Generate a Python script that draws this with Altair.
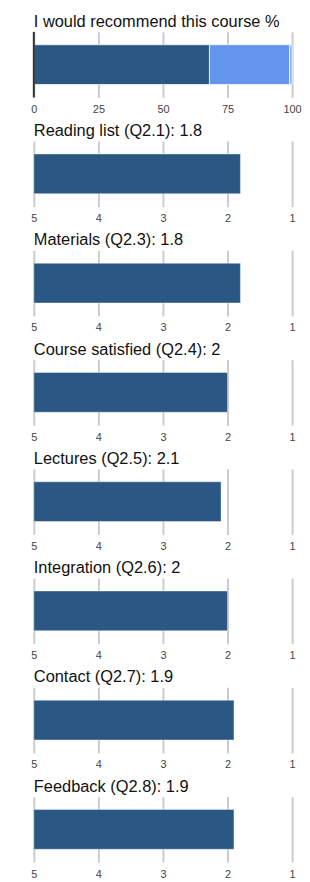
import altair as alt
import pandas as pd

# Panel 1: recommendation (stacked %)
rec_title = "I would recommend this course %"
rec_segments = ["Agree", "Neutral", "Disagree"]
rec_values = [68, 31, 1]
rec_colors = ["#2a5783", "#6495ed", "#8fb5f2"]
rec_ticks = [0, 25, 50, 75, 100]

# Panels 2-8: mean scores on a reversed 5..1 scale
labels = ["Reading list (Q2.1)", "Materials (Q2.3)", "Course satisfied (Q2.4)",
          "Lectures (Q2.5)", "Integration (Q2.6)", "Contact (Q2.7)", "Feedback (Q2.8)"]
scores = [1.8, 1.8, 2.0, 2.1, 2.0, 1.9, 1.9]
score_display = ["1.8", "1.8", "2", "2.1", "2", "1.9", "1.9"]
score_ticks = [5, 4, 3, 2, 1]

W, H = 260, 66
FONT = "Liberation Sans"


def axis(values):
    return alt.Axis(values=values, domain=False, ticks=False, grid=True,
                    gridColor="#cccccc", gridWidth=2, labelColor="#444444",
                    labelFontSize=11, labelFont=FONT, labelPadding=6, title=None,
                    labelFlush=False)


def heading(text):
    return alt.Chart(pd.DataFrame({"t": [text]})).mark_text(
        align="left", baseline="alphabetic", font=FONT, fontSize=16.5,
        color="#111111"
    ).encode(text="t:N", x=alt.value(0), y=alt.value(-5))


# first panel
rec_df = pd.DataFrame({"seg": rec_segments, "val": rec_values,
                       "order": list(range(len(rec_segments)))})
rec_bar = alt.Chart(rec_df).mark_bar(size=40, stroke="#ffffff", strokeWidth=1,
                                     strokeOpacity=0.7).encode(
    x=alt.X("val:Q", stack="zero", scale=alt.Scale(domain=[0, 100], nice=False),
            axis=axis(rec_ticks)),
    color=alt.Color("seg:N", scale=alt.Scale(domain=rec_segments, range=rec_colors),
                    legend=None),
    order=alt.Order("order:Q"),
)
rec_rule = alt.Chart(pd.DataFrame({"x": [0]})).mark_rule(color="#333333", strokeWidth=2).encode(
    x=alt.X("x:Q")
)
panels = [alt.layer(rec_bar, rec_rule, heading(rec_title)).properties(width=W, height=H)]

for lab, s, disp in zip(labels, scores, score_display):
    df = pd.DataFrame({"label": [lab], "score": [s], "base": [5]})
    bar = alt.Chart(df).mark_bar(size=40, color="#2a5783", stroke="#ffffff",
                                 strokeWidth=1, strokeOpacity=0.4).encode(
        x=alt.X("base:Q", scale=alt.Scale(domain=[1, 5], reverse=True, nice=False),
                axis=axis(score_ticks)),
        x2="score:Q",
    )
    panels.append(alt.layer(bar, heading(f"{lab}: {disp}")).properties(width=W, height=H))

chart = alt.vconcat(*panels, spacing=9).properties(
    padding={"left": 22, "top": 3, "right": 0, "bottom": 5}
).configure_view(stroke=None)

chart.save("out.html", embed_options={"renderer": "svg", "actions": False})
